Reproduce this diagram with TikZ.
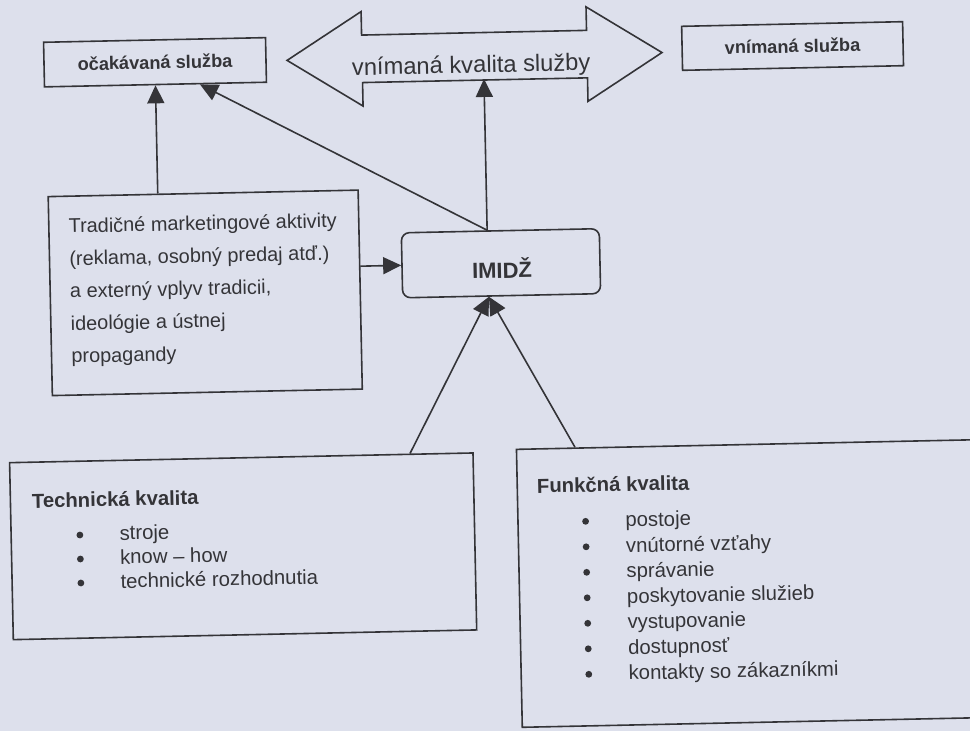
\documentclass[tikz,border=0pt]{standalone}
\usepackage{fontspec}
\setmainfont{Liberation Sans}
\usetikzlibrary{arrows.meta,calc}
\definecolor{paper}{RGB}{221,224,236}
\definecolor{ink}{RGB}{52,52,56}
\tikzset{
  box/.style={draw=ink, line width=1.6pt, inner sep=0pt, text=ink},
  conn/.style={draw=ink, line width=1.6pt, -{Triangle[length=18pt,width=17pt]}},
  toplbl/.style={font=\bfseries\fontsize{18.2}{22}\selectfont},
  plaintxt/.style={inner sep=0pt, text=ink, anchor=base west, font=\fontsize{19.9}{24}\selectfont},
  itemtxt/.style={inner sep=0pt, text=ink, anchor=base west, font=\fontsize{20.3}{24}\selectfont},
  headtxt/.style={inner sep=0pt, text=ink, anchor=base west, font=\bfseries\fontsize{20.3}{24}\selectfont},
  dot/.style={circle, fill=ink, draw=none, inner sep=0pt, minimum size=6.8pt},
}
\begin{document}
\begin{tikzpicture}[x=1pt,y=-1pt]
\useasboundingbox (0,0) rectangle (970,731);
\fill[paper] (0,0) rectangle (970,731);
\clip (0,0) rectangle (970,731);
\begin{scope}[rotate around={1.2:(485,365)}, transform shape]
% top boxes
\node[box, toplbl, minimum width=222pt, minimum height=44.6pt] (exp) at (161.4,55.4) {očakávaná služba};
\node[box, toplbl, minimum width=221pt, minimum height=44pt] (perc) at (799.2,52.5) {vnímaná služba};
% double arrow
\draw[draw=ink, line width=1.6pt, line join=miter]
  (293.5,56.3) -- (368.5,9.05) -- (368.5,32.55) -- (593.5,32.55) -- (593.5,9.05)
  -- (668.5,56.3) -- (593.5,103.55) -- (593.5,80.05) -- (368.5,80.05) -- (368.5,103.55) -- cycle;
\node[inner sep=0pt, text=ink, font=\fontsize{23.7}{28}\selectfont, anchor=base] (vkq) at (477.5,72.7) {vnímaná kvalita služby};
\coordinate (dblb) at (490,79);
% IMIDZ
\node[box, rounded corners=8pt, minimum width=198pt, minimum height=65pt] (img) at (503.1,263.6) {};
\node[inner sep=0pt, text=ink, font=\bfseries\fontsize{22}{26}\selectfont, anchor=base] (imgt) at (504,278.7) {IMIDŽ};
% traditional
\node[box, minimum width=310pt, minimum height=199pt] (trad) at (206.8,287) {};
\node[plaintxt] (t1) at (71.5,224.3) {Tradičné marketingové aktivity};
\node[plaintxt] (t2) at (71.5,256.8) {(reklama, osobný predaj atď.)};
\node[plaintxt] (t3) at (71.5,289.3) {a externý vplyv tradicii,};
\node[plaintxt] (t4) at (71.5,321.8) {ideológie a ústnej};
\node[plaintxt] (t5) at (71.5,354.3) {propagandy};
% technical
\node[box, minimum width=463.5pt, minimum height=177pt] (tech) at (239.4,541.2) {};
\node[headtxt] (th) at (29,498.5) {Technická kvalita};
\node[dot] (tb1) at (76.4,526.5) {};
\node[dot] (tb2) at (76.4,550.5) {};
\node[dot] (tb3) at (76.4,574.5) {};
\node[itemtxt] (ti1) at (116,532.5) {stroje};
\node[itemtxt] (ti2) at (116,556.5) {know – how};
\node[itemtxt] (ti3) at (116,580.5) {technické rozhodnutia};
% functional
\node[box, minimum width=485.3pt, minimum height=278pt] (func) at (757.35,589) {};
\node[headtxt] (fh) at (534.3,494.1) {Funkčná kvalita};
\foreach \i/\t in {0/postoje,1/vnútorné vzťahy,2/správanie,3/poskytovanie služieb,4/vystupovanie,5/dostupnosť,6/kontakty so zákazníkmi}{
  \node[dot] (fb\i) at (582.3,{529.9+25.5*\i-6.5}) {};
  \node[itemtxt] (fi\i) at (622,{529.9+25.5*\i}) {\t};
}
% connectors
\draw[conn] (exp.south |- trad.north) -- (exp.south);
\draw[conn] ([xshift=-13.1pt]img.north) -- ([xshift=44.5pt]exp.south);
\draw[conn] ([xshift=-13.1pt]img.north) -- (dblb);
\draw[conn] (trad.east |- img.west) -- (img.west);
\draw[conn] ([xshift=168.8pt]tech.north) -- ([xshift=-12.7pt]img.south);
\draw[conn] ([xshift=-184pt]func.north) -- ([xshift=-12.7pt]img.south);
\end{scope}
\end{tikzpicture}
\end{document}
